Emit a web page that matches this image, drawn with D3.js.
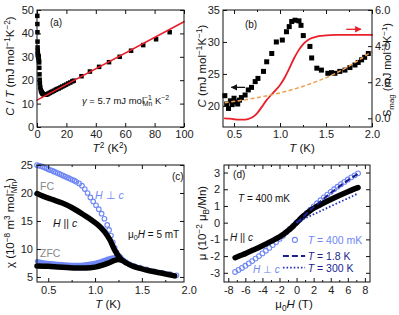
<!DOCTYPE html>
<html>
<head>
<meta charset="utf-8">
<script src="https://cdn.jsdelivr.net/npm/d3@7"></script>
<style>
body { margin: 0; background: #fff; }
svg { display: block; font-family: "Liberation Sans", Arial, Helvetica, sans-serif; }
</style>
</head>
<body>
<svg id="fig" width="399" height="315"></svg>
<script>
// ---- panel (a): C/T vs T^2 ----
var aPoints = [[0.2,47.5],[0.25,44.0],[0.3,40.5],[0.36,36.5],[0.42,34.0],[0.49,32.5],[0.56,31.5],[0.64,30.8],
  [0.72,30.4],[0.81,30.2],[0.9,30.1],[1.0,30.0],[1.1,29.6],[1.21,29.0],[1.32,28.3],[1.44,27.6],[1.56,25.3],
  [1.69,22.5],[1.82,20.2],[1.96,18.6],[2.25,16.9],[2.56,15.8],[2.89,15.2],[3.24,14.8],[3.61,14.4],[4.0,14.2],
  [4.41,14.0],[4.84,13.9],[5.29,13.8],[5.76,13.8],[6.25,13.8],[7.0,14.0],[7.8,14.3],[8.7,14.6],[9.6,14.9],
  [10.6,15.2],[11.6,15.5],[12.7,15.9],[13.7,16.2],[14.8,16.5],[16.0,16.9],[17.2,17.3],[18.5,17.7],[19.8,18.1],
  [21.2,18.6],[22.6,19.0],[24.0,19.5],[25.0,19.8],[30.25,21.7],[36.0,23.7],[42.25,25.7],[49.0,27.7],
  [56.25,30.0],[64.0,32.6],[72.25,35.0],[81.0,37.5],[90.25,40.5]];
var aFit = [[0, 11.5], [100, 45.0]];
var aXTicks = [0, 20, 40, 60, 80, 100];
var aYTicks = [0, 10, 20, 30, 40, 50];

// ---- panel (b): C vs T, S_mag ----
var bPoints = [[0.40,21.6],[0.42,20.3],[0.44,19.6],[0.46,20.8],[0.48,20.2],[0.50,21.2],[0.52,20.6],[0.54,20.3],
  [0.56,20.9],[0.58,21.3],[0.62,21.7],[0.655,22.5],[0.69,22.9],[0.73,23.8],[0.76,24.3],[0.82,25.4],[0.855,26.9],
  [0.91,28.2],[0.96,30.0],[1.025,30.3],[1.07,31.6],[1.10,32.4],[1.127,33.2],[1.163,33.4],[1.206,33.3],
  [1.228,32.6],[1.253,31.0],[1.325,29.3],[1.344,27.5],[1.40,25.9],[1.45,25.6],[1.52,25.1],[1.56,25.2],
  [1.597,25.1],[1.65,25.4],[1.706,25.6],[1.76,26.0],[1.815,26.4],[1.85,26.8],[1.887,27.2],[1.92,27.6],[1.96,28.2]];
var bEntropy = [[0.40,0.0],[0.45,-0.02],[0.50,-0.05],[0.55,-0.07],[0.60,-0.07],[0.65,-0.04],[0.70,0.06],
  [0.75,0.28],[0.80,0.62],[0.85,0.98],[0.90,1.28],[0.95,1.55],[1.00,1.85],[1.05,2.25],[1.10,2.75],[1.15,3.3],
  [1.20,3.75],[1.25,4.1],[1.30,4.33],[1.35,4.46],[1.40,4.53],[1.45,4.57],[1.50,4.6],[1.60,4.62],[1.70,4.62],
  [1.80,4.62],[1.90,4.62],[2.00,4.62]];
var bPhonon = [[0.40,20.5],[0.60,20.9],[0.80,21.4],[1.00,22.0],[1.20,22.8],[1.40,23.8],[1.60,25.0],[1.80,26.6],[2.00,28.5]];
var bXTicks = [0.5, 1.0, 1.5, 2.0], bXMinor = [0.75, 1.25, 1.75];
var bYTicks = [20, 25, 30, 35], bY2Ticks = [0, 2, 4, 6];

// ---- panel (c): chi vs T ----
var cPerpFC = [[0.38,25.0],[0.40,24.9],[0.42,24.8],[0.44,24.7],[0.46,24.55],[0.48,24.4],[0.50,24.25],[0.52,24.1],
  [0.54,24.0],[0.56,23.85],[0.58,23.7],[0.60,23.55],[0.62,23.4],[0.64,23.25],[0.66,23.1],[0.68,22.95],[0.70,22.8],
  [0.72,22.65],[0.74,22.5],[0.76,22.35],[0.78,22.2],[0.80,22.0],[0.83,21.7],[0.86,21.3],[0.89,20.7],[0.92,20.0],
  [0.95,19.2],[0.98,18.5],[1.01,17.8],[1.04,17.1],[1.07,16.3],[1.10,15.4],[1.13,14.3],[1.15,13.4],[1.17,12.4],
  [1.19,11.2],[1.21,10.2],[1.23,9.4],[1.25,8.8],[1.275,8.4],[1.30,8.0],[1.33,7.65],[1.37,7.25],[1.42,6.95],
  [1.48,6.65],[1.55,6.35],[1.63,6.0],[1.72,5.75],[1.80,5.5],[1.87,5.3]];
var cPerpZFC = [[0.38,7.8],[0.45,7.6],[0.55,7.4],[0.65,7.25],[0.75,7.15],[0.85,7.15],[0.95,7.35],[1.05,7.75],
  [1.12,8.15],[1.18,8.45],[1.23,8.6],[1.27,8.7]];
var cParFC = [[0.38,19.9],[0.45,19.4],[0.55,18.8],[0.65,18.2],[0.75,17.4],[0.85,16.4],[0.95,15.3],[1.05,14.0],
  [1.1,13.1],[1.16,11.6],[1.21,9.8],[1.27,8.3],[1.34,7.45],[1.41,6.9],[1.48,6.55],[1.58,6.1],[1.69,5.75],
  [1.78,5.45],[1.85,5.2]];
var cParZFC = [[0.38,6.95],[0.5,6.9],[0.6,6.8],[0.7,6.7],[0.8,6.6],[0.9,6.6],[1.0,6.75],[1.08,7.1],[1.15,7.55],
  [1.2,7.9],[1.25,8.1],[1.28,8.0]];
var cXTicks = [0.5, 1.0, 1.5, 2.0], cXMinor = [0.75, 1.25, 1.75];
var cYTicks = [5, 10, 15, 20, 25];

// ---- panel (d): mu vs mu0H ----
var dPar = [[-7.2,-2.1],[-6.5,-1.95],[-6,-1.85],[-5,-1.62],[-4,-1.38],[-3,-1.12],[-2,-0.85],[-1.5,-0.68],
  [-1,-0.48],[-0.5,-0.26],[-0.2,-0.1],[0,0],[0.2,0.1],[0.5,0.26],[1,0.48],[1.5,0.68],[2,0.86],[3,1.13],
  [4,1.38],[5,1.62],[6,1.85],[6.5,1.96],[7.2,2.1]];
var dPerp = [[-7.2,-2.95],[-6.8,-2.83],[-6.4,-2.71],[-6.0,-2.58],[-5.6,-2.44],[-5.2,-2.30],[-4.8,-2.15],
  [-4.4,-2.00],[-4.0,-1.84],[-3.6,-1.68],[-3.2,-1.51],[-2.8,-1.34],[-2.4,-1.16],[-2.0,-0.97],[-1.6,-0.78],
  [-1.2,-0.58],[-0.8,-0.38],[-0.4,-0.19],[0,0],[0.4,0.19],[0.8,0.38],[1.2,0.58],[1.6,0.78],[2.0,0.97],
  [2.4,1.16],[2.8,1.34],[3.2,1.51],[3.6,1.68],[4.0,1.84],[4.4,2.00],[4.8,2.15],[5.2,2.30],[5.6,2.44],
  [6.0,2.58],[6.4,2.71],[6.8,2.83],[7.2,2.95]];
var d18K = [[0,0],[0.5,0.22],[1,0.46],[2,0.93],[3,1.36],[4,1.77],[5,2.16],[6,2.53],[7.2,2.92]];
var d300K = [[0,0],[1,0.26],[2,0.5],[3,0.74],[4,0.98],[5,1.22],[6,1.45],[7.2,1.75]];
var dXTicks = [-8, -6, -4, -2, 0, 2, 4, 6, 8], dXMinor = [-7, -5, -3, -1, 1, 3, 5, 7];
var dYTicks = [-3, -2, -1, 0, 1, 2, 3];

var blue = "#6f87f5", navy = "#1c1f8f", red = "#e8202a", orange = "#f0a050";

var svg = d3.select("#fig");

function frame(x, y, o) {
    var g = svg.append("g");
    var xr = x.range(), yr = y.range();
    var xd = x.domain();
    function inX(v) { return v >= Math.min(xd[0], xd[1]) - 1e-9 && v <= Math.max(xd[0], xd[1]) + 1e-9; }
    function add(gen, vals, size, fmt, tr) {
        var a = g.append("g").attr("transform", tr)
            .call(gen.tickValues(vals).tickSize(size).tickPadding(o.pad || 3).tickFormat(fmt));
        a.select(".domain").remove();
        return a;
    }
    var bottom = add(d3.axisBottom(x), o.xt, -4, o.xf, "translate(0," + yr[0] + ")");
    bottom.selectAll(".tick").filter(function(d) { return !inX(d); }).select("line").remove();
    add(d3.axisTop(x), o.xt.filter(inX), -4, "", "translate(0," + yr[1] + ")");
    if (o.xm) {
        add(d3.axisBottom(x), o.xm, -2, "", "translate(0," + yr[0] + ")");
        add(d3.axisTop(x), o.xm, -2, "", "translate(0," + yr[1] + ")");
    }
    add(d3.axisLeft(y), o.yt, -4, o.yf, "translate(" + xr[0] + ",0)");
    if (o.y2) add(d3.axisRight(o.y2), o.y2t, -4, null, "translate(" + xr[1] + ",0)");
    else add(d3.axisRight(y), o.yt, -4, "", "translate(" + xr[1] + ",0)");
    g.selectAll(".tick text").attr("font-size", 11).attr("fill", "#222")
        .attr("font-family", '"Liberation Sans", Arial, Helvetica, sans-serif');
    g.selectAll(".tick line").attr("stroke", "#111");
    g.append("rect").attr("x", xr[0]).attr("y", yr[1])
        .attr("width", xr[1] - xr[0]).attr("height", yr[0] - yr[1])
        .attr("fill", "none").attr("stroke", "#111").attr("stroke-width", 1);
}

// text with italic / superscript / subscript pieces
function rich(sel, parts, fs) {
    var cur = 0;
    parts.forEach(function(p) {
        if (typeof p === "string") p = { t: p };
        var off = p.sup ? -0.38 * fs : p.sub ? 0.24 * fs : 0;
        var ts = sel.append("tspan").text(p.t).attr("dy", off - cur);
        if (p.dx) ts.attr("dx", p.dx);
        if (p.sup || p.sub) ts.attr("font-size", fs * 0.72);
        if (p.i) ts.attr("font-style", "italic");
        cur = off;
    });
}

function label(x, y, parts, o) {
    o = o || {};
    var fs = o.fs || 10;
    var t = svg.append("text").attr("x", x).attr("y", y).attr("font-size", fs)
        .attr("fill", o.color || "#111").attr("text-anchor", o.anchor || "start");
    if (o.rotate) t.attr("transform", "rotate(-90," + x + "," + y + ")");
    rich(t, parts, fs);
    return t;
}

function squares(x, y, pts, s) {
    svg.append("g").selectAll("rect").data(pts).enter().append("rect")
        .attr("x", function(d) { return x(d[0]) - s / 2; })
        .attr("y", function(d) { return y(d[1]) - s / 2; })
        .attr("width", s).attr("height", s).attr("fill", "#000");
}

function curve(x, y, pts, color, w, dash, c) {
    var p = svg.append("path").datum(pts)
        .attr("d", d3.line().x(function(d) { return x(d[0]); }).y(function(d) { return y(d[1]); })
            .curve(c || d3.curveMonotoneX))
        .attr("fill", "none").attr("stroke", color).attr("stroke-width", w)
        .attr("stroke-linecap", "round").attr("stroke-linejoin", "round");
    if (dash) p.attr("stroke-dasharray", dash).attr("stroke-linecap", "butt");
    return p;
}

function circles(x, y, pts, color, r) {
    svg.append("g").selectAll("circle").data(pts).enter().append("circle")
        .attr("cx", function(d) { return x(d[0]); }).attr("cy", function(d) { return y(d[1]); })
        .attr("r", r).attr("fill", "none").attr("stroke", color).attr("stroke-width", 1.1);
}

var fmt1 = d3.format(".1f");
var fmtInt = function(d) { return String(d); };   // plain hyphen minus like the original

// ===== (a) =====
var ax = d3.scaleLinear().domain([0, 100]).range([37, 184]);
var ay = d3.scaleLinear().domain([0, 50]).range([127, 10]);
squares(ax, ay, aPoints, 4.5);
curve(ax, ay, aFit, red, 1.6, null, d3.curveLinear);
frame(ax, ay, { xt: aXTicks, xf: null, yt: aYTicks, yf: null, pad: 3 });
label(ax(8.8), ay(43.2), ["(a)"]);
label(ax(30.6), ay(9.8), [{ t: "\u03b3", i: 1 }, " = 5.7 mJ mol", { t: "\u22121", sup: 1 }, { t: "Mn", sub: 1, dx: -9 }, " K", { t: "\u22122", sup: 1 }], { fs: 9.5 });
label(110, 152, [{ t: "T", i: 1 }, { t: "2", sup: 1 }, " (K", { t: "2", sup: 1 }, ")"], { fs: 11.5, anchor: "middle" });
label(14, 66, [{ t: "C", i: 1 }, " / ", { t: "T", i: 1 }, " (mJ mol", { t: "\u22121", sup: 1 }, "K", { t: "\u22122", sup: 1 }, ")"], { fs: 11.5, anchor: "middle", rotate: 1 });

// ===== (b) =====
var bx = d3.scaleLinear().domain([0.38, 2.0]).range([223, 372]);
var by = d3.scaleLinear().domain([16.7, 35]).range([127, 10]);
var by2 = d3.scaleLinear().domain([-0.48, 6]).range([127, 10]);
curve(bx, by2, bEntropy, red, 1.8);
squares(bx, by, bPoints, 5);
curve(bx, by, bPhonon, orange, 1.5, "4,2.5", d3.curveBasis);
frame(bx, by, { xt: bXTicks, xm: bXMinor, xf: fmt1, yt: bYTicks, yf: null, y2: by2, y2t: bY2Ticks, pad: 3 });
label(bx(0.619), by(32.2), ["(b)"]);
// arrows
svg.append("defs").html(
    '<marker id="ahK" viewBox="0 0 10 10" refX="9" refY="5" markerWidth="5" markerHeight="5" orient="auto"><path d="M0,0L10,5L0,10z" fill="#111"/></marker>' +
    '<marker id="ahR" viewBox="0 0 10 10" refX="9" refY="5" markerWidth="5" markerHeight="5" orient="auto"><path d="M0,0L10,5L0,10z" fill="' + red + '"/></marker>');
svg.append("line").attr("x1", bx(0.62)).attr("x2", bx(0.47)).attr("y1", by(22.9)).attr("y2", by(22.9))
    .attr("stroke", "#111").attr("stroke-width", 1.3).attr("marker-end", "url(#ahK)");
svg.append("line").attr("x1", bx(1.72)).attr("x2", bx(1.88)).attr("y1", by2(4.93)).attr("y2", by2(4.93))
    .attr("stroke", red).attr("stroke-width", 1.3).attr("marker-end", "url(#ahR)");
label(302, 152, [{ t: "T", i: 1 }, " (K)"], { fs: 11.5, anchor: "middle" });
label(206, 66, [{ t: "C", i: 1 }, " (mJ mol", { t: "\u22121", sup: 1 }, "K", { t: "\u22121", sup: 1 }, ")"], { fs: 11.5, anchor: "middle", rotate: 1 });
label(391, 70, ["S", { t: "mag", sub: 1 }, "  (mJ mol", { t: "\u22121", sup: 1 }, "K", { t: "\u22121", sup: 1 }, ")"], { fs: 11, anchor: "middle", rotate: 1 });

// ===== (c) =====
var cx = d3.scaleLinear().domain([0.38, 1.95]).range([37, 184]);
var cy = d3.scaleLinear().domain([4.1, 25]).range([282, 165]);
curve(cx, cy, cPerpZFC, blue, 4.5);
circles(cx, cy, cPerpFC, blue, 2.3);
curve(cx, cy, cParFC, "#000", 5.5);
curve(cx, cy, cParZFC, "#000", 5.5);
frame(cx, cy, { xt: cXTicks, xm: cXMinor, xf: fmt1, yt: cYTicks, yf: null, pad: 4 });
label(cx(1.822), cy(22.3), ["(c)"]);
label(cx(0.412), cy(20.5), ["FC"], { color: "#888", fs: 10.5 });
label(cx(0.412), cy(8.57), ["ZFC"], { color: "#888", fs: 10.5 });
label(cx(1.0), cy(18.9), [{ t: "H", i: 1 }, " \u22a5 ", { t: "c", i: 1 }], { color: blue, fs: 10.5 });
label(cx(0.551), cy(13.9), [{ t: "H", i: 1 }, " || ", { t: "c", i: 1 }], { fs: 10.5 });
label(cx(1.352), cy(12.0), ["\u03bc", { t: "0", sub: 1 }, { t: "H", i: 1 }, " = 5 mT"], { fs: 10 });
label(108, 308, [{ t: "T", i: 1 }, " (K)"], { fs: 11.5, anchor: "middle" });
label(14, 223, ["\u03c7 (10", { t: "\u22128", sup: 1 }, " m", { t: "3", sup: 1 }, " mol", { t: "\u22121", sup: 1 }, { t: "Mn", sub: 1, dx: -9 }, ")"], { fs: 11.5, anchor: "middle", rotate: 1 });

// ===== (d) =====
var dx = d3.scaleLinear().domain([-8.5, 8.6]).range([224, 370]);
var dy = d3.scaleLinear().domain([-3.55, 3.45]).range([282, 165]);
circles(dx, dy, dPerp, blue, 2.4);
curve(dx, dy, dPar, "#000", 5.5);
curve(dx, dy, d18K, navy, 2, "6,3");
curve(dx, dy, d300K, "#2430b8", 1.8, "1.6,2");
frame(dx, dy, { xt: dXTicks, xm: dXMinor, xf: fmtInt, yt: dYTicks, yf: fmtInt, pad: 4 });
label(dx(-7.44), dy(2.67), ["(d)"]);
label(dx(-6.86), dy(1.24), [{ t: "T", i: 1 }, " = 400 mK"], { fs: 10 });
label(dx(-7.8), dy(-1.1), [{ t: "H", i: 1 }, " || ", { t: "c", i: 1 }], { fs: 10 });
label(dx(-5.1), dy(-3.0), [{ t: "H", i: 1 }, " \u22a5 ", { t: "c", i: 1 }], { fs: 10, color: blue });
// legend
svg.append("circle").attr("cx", dx(-0.2)).attr("cy", dy(-1.03)).attr("r", 2.5)
    .attr("fill", "none").attr("stroke", blue).attr("stroke-width", 1.1);
label(dx(1.3), dy(-1.27), [{ t: "T", i: 1 }, " = 400 mK"], { fs: 10.5, color: blue });
svg.append("line").attr("x1", dx(-1.6)).attr("x2", dx(1.0)).attr("y1", dy(-1.99)).attr("y2", dy(-1.99))
    .attr("stroke", navy).attr("stroke-width", 2).attr("stroke-dasharray", "6,3");
label(dx(1.3), dy(-2.23), [{ t: "T", i: 1 }, " =  1.8 K"], { fs: 10.5, color: navy });
svg.append("line").attr("x1", dx(-1.6)).attr("x2", dx(1.0)).attr("y1", dy(-2.69)).attr("y2", dy(-2.69))
    .attr("stroke", "#2430b8").attr("stroke-width", 1.8).attr("stroke-dasharray", "1.6,2");
label(dx(1.3), dy(-2.93), [{ t: "T", i: 1 }, " = 300 K"], { fs: 10.5, color: navy });
label(294, 308, ["\u03bc", { t: "0", sub: 1 }, { t: "H", i: 1 }, " (T)"], { fs: 11.5, anchor: "middle" });
label(206, 223, ["\u03bc (10", { t: "\u22122", sup: 1 }, " \u03bc", { t: "B", sub: 1 }, "/Mn)"], { fs: 11.5, anchor: "middle", rotate: 1 });
</script>
</body>
</html>
